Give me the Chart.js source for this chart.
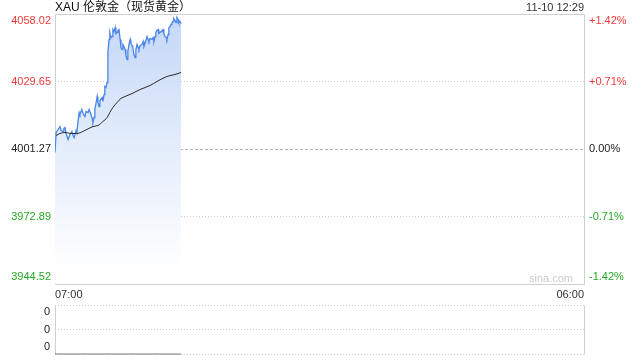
<!DOCTYPE html>
<html><head><meta charset="utf-8">
<script src="https://cdn.jsdelivr.net/npm/chart.js@4/dist/chart.umd.min.js"></script>
<style>
html,body{margin:0;padding:0;background:#fff;}
body{width:640px;height:360px;overflow:hidden;position:relative;font-family:Arial,"Liberation Sans","Noto Sans CJK SC",sans-serif;}
#title{position:absolute;left:55px;top:0;font-size:12px;line-height:15px;color:#111;white-space:nowrap;}
#stamp{position:absolute;right:56px;top:1px;font-size:11px;line-height:13px;color:#333;white-space:nowrap;}
#mark{position:absolute;right:67px;top:272px;font-size:11px;line-height:13px;color:#ccc;}
#w1{position:absolute;left:0;top:0;width:640px;height:300px;}
#w2{position:absolute;left:0;top:300px;width:640px;height:60px;}
</style></head>
<body>
<div id="w1"><canvas id="c1" width="640" height="300"></canvas></div>
<div id="w2"><canvas id="c2" width="640" height="60"></canvas></div>
<div id="title">XAU 伦敦金（现货黄金）</div>
<div id="stamp">11-10 12:29</div>
<div id="mark">sina.com</div>
<script>
// ---- data (minutes after 07:00) ----
const priceTimes = [0,3,8,13,16,21,23,26,29,34,39,44,47,50,55,57,60,63,65,70,73,78,81,86,89,94,97,99,102,104,107,110,112,115,117,123,125,128,130,133,136,138,141,143,146,149,151,154,157,159,162,164,167,170,172,175,177,180,183,185,188,190,193,196,198,201,203,206,209,211,214,217,219,222,227,230,232,235,240,243,245,248,253,256,258,261,263,266,269,271,274,277,279,282,284,287,290,292,295,297,300,303,305,308,310,313,316,318,321,323,326,329];
const prices = [3999.80,4008.21,4009.47,4010.73,4009.05,4008.63,4009.89,4010.31,4007.79,4005.26,4007.37,4008.63,4006.95,4006.10,4009.05,4008.21,4012.83,4016.61,4015.77,4017.87,4016.19,4014.93,4017.03,4016.61,4017.87,4015.77,4014.09,4012.41,4014.51,4017.87,4020.40,4023.34,4020.82,4019.14,4021.66,4022.92,4021.24,4024.18,4027.54,4027.12,4029.22,4041.84,4047.30,4050.24,4048.14,4048.56,4051.50,4050.66,4052.35,4049.82,4050.24,4051.08,4051.50,4047.30,4043.94,4043.10,4045.20,4044.36,4043.10,4040.57,4038.89,4042.26,4045.20,4047.30,4045.62,4044.78,4043.94,4041.00,4039.73,4043.10,4045.20,4043.94,4043.10,4044.78,4045.20,4046.46,4044.36,4045.62,4048.56,4047.30,4046.46,4047.72,4047.30,4048.14,4046.46,4048.56,4050.24,4051.08,4051.50,4049.82,4050.24,4050.66,4051.08,4051.50,4049.82,4048.56,4048.14,4047.30,4049.40,4052.35,4052.77,4053.61,4054.45,4054.87,4056.13,4055.29,4054.45,4056.55,4055.71,4054.45,4054.87,4054.03];
const avgTimes = [3,13,26,42,57,78,99,112,125,136,143,151,162,172,183,201,222,248,266,292,313,329];
const avgPrices = [4006.95,4007.79,4008.21,4007.79,4007.79,4009.05,4010.73,4011.15,4012.83,4014.51,4016.61,4018.72,4020.82,4022.50,4023.34,4024.60,4026.28,4027.96,4029.65,4031.75,4032.59,4033.43];
const volumeTimes = [0,329];
const volumes = [0,0];
const prevClose = 4001.27;
const leftTickValues = [3944.52,3972.89,4001.27,4029.65,4058.02];
const leftTickLabels = ['3944.52','3972.89','4001.27','4029.65','4058.02'];
const rightTickLabels = ['-1.42%','-0.71%','0.00%','+0.71%','+1.42%'];
const xTickValues = [0,1380];
const xTickLabels = ['07:00','06:00'];
const volTickValues = [0,0.5,1];
const volTickLabels = ['0','0','0'];

const RED='#f23a3a', GREEN='#25a925', BLACK='#222';
const tickColors = [GREEN,GREEN,BLACK,RED,RED];
const font11 = {family:'Arial, "Liberation Sans", sans-serif', size:11};

function edgeLabel(text, i, n){
  if(i===n-1) return ['', text];
  if(i===0) return [text, ''];
  return text;
}
function noPad(s){ s.paddingTop=0; s.paddingBottom=0; s.paddingLeft=0; s.paddingRight=0; }

const frame = {
  id:'frame',
  beforeDatasetsDraw(chart, args, opts){
    const {ctx, chartArea:a} = chart;
    ctx.save();
    if(opts.baseline){
      const y = Math.round(chart.scales.y.getPixelForValue(prevClose))+0.5;
      ctx.strokeStyle='#b5b5b5'; ctx.lineWidth=1; ctx.setLineDash([3,2]);
      ctx.beginPath(); ctx.moveTo(a.left,y); ctx.lineTo(a.right,y); ctx.stroke();
    }
    ctx.setLineDash([]);
    ctx.strokeStyle='#cfcfcf'; ctx.lineWidth=1;
    ctx.beginPath();
    if(opts.top){ ctx.moveTo(Math.round(a.left)+0.5, Math.round(a.top)+0.5); ctx.lineTo(Math.round(a.right)+0.5, Math.round(a.top)+0.5); }
    if(opts.bottom){ ctx.moveTo(Math.round(a.left)+0.5, Math.round(a.bottom)+0.5); ctx.lineTo(Math.round(a.right)+0.5, Math.round(a.bottom)+0.5); }
    ctx.moveTo(Math.round(a.left)+0.5, Math.round(a.top)+0.5); ctx.lineTo(Math.round(a.left)+0.5, Math.round(a.bottom)+0.5);
    ctx.moveTo(Math.round(a.right)+0.5, Math.round(a.top)+0.5); ctx.lineTo(Math.round(a.right)+0.5, Math.round(a.bottom)+0.5);
    ctx.stroke();
    ctx.restore();
  }
};

function fillGrad(context){
  const c = context.chart; const a = c.chartArea;
  if(!a) return 'rgba(200,218,247,0.8)';
  const g = c.ctx.createLinearGradient(0,a.top,0,a.bottom);
  g.addColorStop(0,'rgba(196,215,247,1)');
  g.addColorStop(0.5,'rgba(228,237,251,1)');
  g.addColorStop(0.95,'rgba(255,255,255,1)');
  return g;
}

new Chart(document.getElementById('c1'), {
  type:'line',
  data:{datasets:[
    {data: priceTimes.map((t,i)=>({x:t,y:prices[i]})), borderColor:'#4a86e8', borderWidth:1.3, pointRadius:0, fill:'start', backgroundColor:fillGrad, tension:0, order:2},
    {data: avgTimes.map((t,i)=>({x:t,y:avgPrices[i]})), borderColor:'#2a2a2a', borderWidth:1, pointRadius:0, fill:false, tension:0.4, cubicInterpolationMode:'monotone', order:1}
  ]},
  plugins:[frame],
  options:{
    responsive:false, animation:false, events:[],
    layout:{padding:{top:14,left:0,right:0,bottom:0}},
    plugins:{legend:{display:false}, tooltip:{enabled:false}, frame:{baseline:true, top:true, bottom:true}},
    scales:{
      x:{type:'linear', min:0, max:1380,
        afterBuildTicks(s){ s.ticks = xTickValues.map(v=>({value:v})); },
        afterFit(s){ s.height = 16; noPad(s); },
        grid:{display:false, drawTicks:false}, border:{display:false},
        ticks:{align:'inner', maxRotation:0, autoSkip:false, padding:4, color:'#333', font:font11,
          callback:(v,i)=>xTickLabels[i]}},
      y:{position:'left', min:3944.52, max:4058.02,
        afterBuildTicks(s){ s.ticks = leftTickValues.map(v=>({value:v})); },
        afterFit(s){ s.width = 55; noPad(s); },
        grid:{drawTicks:false, color:(c)=> (c.index===1||c.index===3)?'#cccccc':'rgba(0,0,0,0)'},
        border:{display:false, dash:[1,2]},
        ticks:{padding:4, autoSkip:false, font:font11, color:(c)=>tickColors[c.index],
          callback:(v,i)=>edgeLabel(leftTickLabels[i], i, leftTickLabels.length)}},
      y2:{position:'right', min:3944.52, max:4058.02,
        afterBuildTicks(s){ s.ticks = leftTickValues.map(v=>({value:v})); },
        afterFit(s){ s.width = 56; noPad(s); },
        grid:{display:false, drawTicks:false}, border:{display:false},
        ticks:{padding:5, autoSkip:false, font:font11, color:(c)=>tickColors[c.index],
          callback:(v,i)=>edgeLabel(rightTickLabels[i], i, rightTickLabels.length)}}
    }
  }
});

new Chart(document.getElementById('c2'), {
  type:'line',
  data:{datasets:[
    {data: volumeTimes.map((t,i)=>({x:t,y:volumes[i]})), borderColor:'#777', borderWidth:1, pointRadius:0, fill:false, clip:3}
  ]},
  plugins:[frame],
  options:{
    responsive:false, animation:false, events:[],
    layout:{padding:{top:5,left:0,right:56,bottom:6}},
    plugins:{legend:{display:false}, tooltip:{enabled:false}, frame:{baseline:false, top:false, bottom:false}},
    scales:{
      x:{type:'linear', min:0, max:1380, display:false},
      y:{position:'left', min:0, max:1,
        afterBuildTicks(s){ s.ticks = volTickValues.map(v=>({value:v})); },
        afterFit(s){ s.width = 55; noPad(s); },
        grid:{drawTicks:false, color:'#cccccc'},
        border:{display:false, dash:[1,2]},
        ticks:{padding:5, autoSkip:false, font:font11, color:'#222',
          callback:(v,i)=>edgeLabel(volTickLabels[i], i, volTickLabels.length)}}
    }
  }
});
</script>
</body></html>
